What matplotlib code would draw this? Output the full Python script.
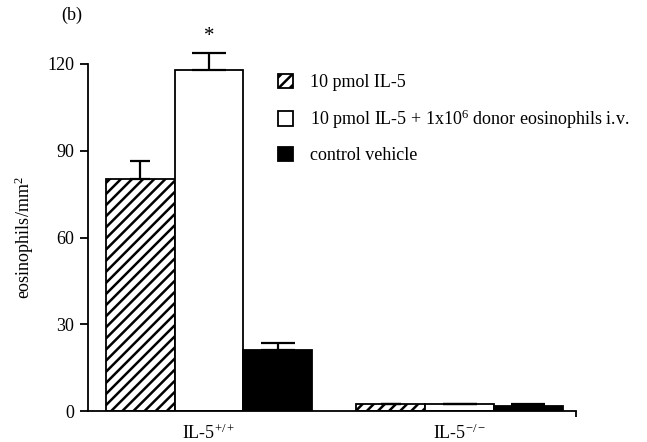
import matplotlib
matplotlib.use("Agg")
import matplotlib.pyplot as plt
import numpy as np
from matplotlib.patches import Patch

plt.rcParams['font.family'] = ['Liberation Serif', 'DejaVu Serif']
plt.rcParams['mathtext.fontset'] = 'custom'
plt.rcParams['mathtext.rm'] = 'Liberation Serif'
plt.rcParams['mathtext.it'] = 'Liberation Serif:italic'
plt.rcParams['hatch.linewidth'] = 1.8

groups = ['IL-5$^{+/+}$', 'IL-5$^{-/-}$']
series = ['10 pmol IL-5', r'10 pmol IL-5 + 1x10$^{6}$ donor eosinophils i.v.', 'control vehicle']
values = {
    'il5': [80.3, 2.4],
    'donor': [117.9, 2.4],
    'vehicle': [21.1, 1.8],
}
errors = {
    'il5': [6.2, 0.0],
    'donor': [5.9, 0.0],
    'vehicle': [2.4, 0.5],
}
yticks = [0, 30, 60, 90, 120]

fig = plt.figure(figsize=(6.47, 4.42), dpi=100)
ax = fig.add_axes([88/647, 1-411/442, (576-88)/647, (411-64)/442])

x = np.arange(len(groups))
w = 0.275
styles = [
    ('il5', dict(facecolor='white', edgecolor='black', hatch='///'), 7),
    ('donor', dict(facecolor='white', edgecolor='black'), 12.5),
    ('vehicle', dict(facecolor='black', edgecolor='black'), 12.5),
]
for i, (key, st, cap) in enumerate(styles):
    pos = x + (i - 1) * w
    ax.bar(pos, values[key], width=w, linewidth=1.3, label=series[i], zorder=2, **st)
    err = np.array(errors[key])
    ax.errorbar(pos, values[key], yerr=[np.zeros_like(err), err], fmt='none',
                ecolor='black', elinewidth=1.6, capsize=cap, capthick=1.6,
                clip_on=False, zorder=3)

ax.text(x[0], 124.2 + 2.0, '*', ha='center', va='bottom', fontsize=15)

ax.set_ylim(0, 120)
ax.set_xlim(-0.483, 1.465)
ax.set_yticks(yticks)
ax.set_xticks(x)
ax.set_xticklabels(groups, fontsize=13)
ax.tick_params(axis='x', length=0, pad=9)
ax.set_xticks([1.465], minor=True)
ax.tick_params(axis='x', which='minor', length=4, width=1.3, direction='out')
ax.tick_params(axis='y', length=6, width=1.3, direction='out', labelsize=13, pad=4)
for s in ['top', 'right']:
    ax.spines[s].set_visible(False)
for s in ['left', 'bottom']:
    ax.spines[s].set_linewidth(1.3)
ax.set_ylabel('eosinophils/mm$^2$', fontsize=13, labelpad=8)

handles = [Patch(facecolor='white', edgecolor='black', hatch='///', linewidth=1.3),
           Patch(facecolor='white', edgecolor='black', linewidth=1.3),
           Patch(facecolor='black', edgecolor='black', linewidth=1.3)]
fig.legend(handles, series, loc='upper left', bbox_to_anchor=(278/647, 1-74/442),
           frameon=False, fontsize=13, handlelength=0.85, handleheight=0.85,
           labelspacing=0.88, borderpad=0, borderaxespad=0, handletextpad=0.9)

fig.text(72/647, 1-15/442, '(b)', ha='center', va='center', fontsize=13)

fig.savefig('out.png', dpi=100)
